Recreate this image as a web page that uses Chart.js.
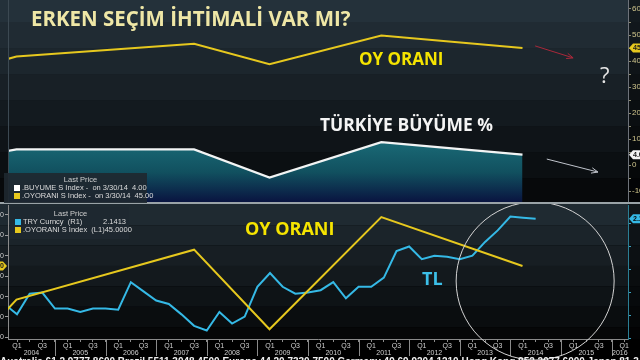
<!DOCTYPE html>
<html>
  <head>
    <title>Erken Seçim İhtimali Var mı?</title>
    <script src="https://cdn.jsdelivr.net/npm/chart.js"></script>
    <style>
      body { margin: 0; background: #000; width: 640px; height: 360px; overflow: hidden; position: relative; font-family: "Open Sans", sans-serif; }
      .panel { position: absolute; left: 0; width: 640px; }
      .txt { position: absolute; line-height: 1; white-space: nowrap; font-weight: 700; transform-origin: 0 0; }
      .legend { position: absolute; background: rgba(30, 40, 48, 0.92); font-family: "Liberation Sans", sans-serif; font-size: 7.5px; line-height: 8px; color: #dcdcdc; box-sizing: border-box; padding-top: 3px; }
      .legend .head { text-align: center; color: #cfcfcf; height: 8px; }
      .legend .row { display: flex; align-items: center; height: 8px; }
      .legend .row span { white-space: pre; }
      .legend .sw { width: 6px; height: 6px; margin-right: 2px; flex: none; }
      .legend .val { margin-left: auto; }
      #sep { position: absolute; left: 0; top: 202px; width: 640px; height: 2px; background: #9aa3a7; }
      #footer { position: absolute; left: 0; top: 357px; font-family: "Liberation Sans", sans-serif; font-size: 10px; font-weight: 700; color: #f0f0f0; white-space: nowrap; line-height: 1; }
    </style>
  </head>

  <body>
    <div class="panel" style="top: 0; height: 203px"><canvas id="topChart"></canvas></div>
    <div class="panel" style="top: 203px; height: 157px"><canvas id="bottomChart"></canvas></div>
    <div id="sep"></div>

    <div class="txt" style="left: 31px; top: 8px; font-size: 21px; color: #efe7a6; transform: scaleX(0.975)">ERKEN SEÇİM İHTİMALİ VAR MI?</div>
    <div class="txt" style="left: 359px; top: 50px; font-size: 17px; color: #f5e400">OY ORANI</div>
    <div class="txt" style="left: 600px; top: 63px; font-size: 22px; font-weight: 400; color: #e6e6e6">?</div>
    <div class="txt" style="left: 320px; top: 115px; font-size: 18px; color: #f4f4f4; transform: scaleX(0.97)">TÜRKİYE BÜYÜME %</div>
    <div class="txt" style="left: 245px; top: 219px; font-size: 18px; color: #f5e400">OY ORANI</div>
    <div class="txt" style="left: 422px; top: 269px; font-size: 18px; color: #3cbfe8">TL</div>

    <div class="legend" style="left: 4px; top: 173px; width: 143px; height: 30px; padding-left: 10px">
      <div class="head">Last Price</div>
      <div class="row"><span class="sw" style="background: #ffffff"></span><span>.BUYUME S Index -  on 3/30/14  4.00</span></div>
      <div class="row"><span class="sw" style="background: #e6c81e"></span><span>.OYORANI S Index -  on 3/30/14  45.00</span></div>
    </div>
    <div class="legend" style="left: 10px; top: 207px; width: 119px; height: 32px; padding-left: 5px; padding-right: 3px">
      <div class="head">Last Price</div>
      <div class="row"><span class="sw" style="background: #35b9e6"></span><span>TRY Curncy  (R1)</span><span class="val">2.1413</span></div>
      <div class="row"><span class="sw" style="background: #e6c81e"></span><span>.OYORANI S Index  (L1)</span><span class="val">45.0000</span></div>
    </div>

    <div id="footer">Australia 61 2 9777 8600 Brazil 5511 3048 4500 Europe 44 20 7330 7500 Germany 49 69 9204 1210 Hong Kong 852 2977 6000 Japan 81 3 3201 8900</div>

    <script>
      // election results (AKP vote share) and growth, dated in decimal years
      var voteDates = [2002.84, 2004.24, 2007.75, 2009.24, 2011.45, 2014.24];
      var voteValues = [34.3, 41.7, 46.6, 38.8, 49.8, 45.0];
      var growthDates = [2004.07, 2004.24, 2007.75, 2009.24, 2011.45, 2014.24];
      var growthValues = [5.4, 6.0, 6.0, -4.8, 8.8, 4.0];

      // USD/TRY, quarter end
      var tryQuarters = [
        "2003Q4",
        "2004Q1", "2004Q2", "2004Q3", "2004Q4",
        "2005Q1", "2005Q2", "2005Q3", "2005Q4",
        "2006Q1", "2006Q2", "2006Q3", "2006Q4",
        "2007Q1", "2007Q2", "2007Q3", "2007Q4",
        "2008Q1", "2008Q2", "2008Q3", "2008Q4",
        "2009Q1", "2009Q2", "2009Q3", "2009Q4",
        "2010Q1", "2010Q2", "2010Q3", "2010Q4",
        "2011Q1", "2011Q2", "2011Q3", "2011Q4",
        "2012Q1", "2012Q2", "2012Q3", "2012Q4",
        "2013Q1", "2013Q2", "2013Q3", "2013Q4",
        "2014Q1", "2014Q2",
      ];
      var tryValues = [
        1.40,
        1.31, 1.49, 1.50, 1.36,
        1.36, 1.33, 1.36, 1.36,
        1.35, 1.59, 1.51, 1.43,
        1.40, 1.31, 1.21, 1.17,
        1.33, 1.23, 1.29, 1.55,
        1.67, 1.55, 1.49, 1.50,
        1.52, 1.59, 1.45, 1.55,
        1.55, 1.63, 1.86, 1.90,
        1.79, 1.82, 1.81, 1.79,
        1.82, 1.94, 2.04, 2.16,
        2.15, 2.1413,
      ];

      var yearLabels = [2004, 2005, 2006, 2007, 2008, 2009, 2010, 2011, 2012, 2013, 2014, 2015, 2016];

      // annotations (data coordinates)
      var arrowNotes = [
        { from: [2014.49, 45.8], to: [2015.24, 41.2], color: "#a8283a" },
        { from: [2014.72, 2.3], to: [2015.73, -2.7], color: "#c0c4cc" },
      ];
      var circleNote = { x: 2014.49, y: 1.6, r: 79 };

      var xMin = 2004.072;
      var xMax = 2016.325;

      function quarterToYear(q) {
        return parseInt(q.slice(0, 4), 10) + parseInt(q.slice(5), 10) * 0.25;
      }
      function toPoints(xs, ys) {
        return xs.map(function (x, i) { return { x: x, y: ys[i] }; });
      }

      function hexToRgb(h) {
        return [parseInt(h.slice(1, 3), 16), parseInt(h.slice(3, 5), 16), parseInt(h.slice(5, 7), 16)];
      }
      function mix(a, b, f) {
        var ca = hexToRgb(a), cb = hexToRgb(b);
        return "rgb(" + ca.map(function (c, i) { return Math.round(c + (cb[i] - c) * f); }).join(",") + ")";
      }

      function paintBands(chart, scaleId, edges, c1, c2) {
        var ctx = chart.ctx, s = chart.scales[scaleId], a = chart.chartArea;
        var ys = [0].concat(edges.map(function (v) { return s.getPixelForValue(v); }), [a.bottom]);
        ctx.save();
        ctx.fillStyle = "#000";
        ctx.fillRect(0, 0, chart.width, chart.height);
        for (var i = 0; i < ys.length - 1; i++) {
          ctx.fillStyle = mix(c1, c2, i / (ys.length - 2));
          ctx.fillRect(0, ys[i], chart.width, ys[i + 1] - ys[i]);
        }
        ctx.fillStyle = "rgba(0,0,0,0.45)";
        ctx.fillRect(a.right, 0, chart.width - a.right, a.bottom);
        ctx.restore();
      }

      function drawTag(chart, scaleId, value, text, bg, fg, side) {
        var ctx = chart.ctx, a = chart.chartArea;
        var y = chart.scales[scaleId].getPixelForValue(value);
        ctx.save();
        ctx.fillStyle = bg;
        ctx.beginPath();
        if (side === "right") {
          var x0 = a.right + 1;
          ctx.moveTo(x0, y);
          ctx.lineTo(x0 + 4, y - 4.5);
          ctx.lineTo(x0 + 40, y - 4.5);
          ctx.lineTo(x0 + 40, y + 4.5);
          ctx.lineTo(x0 + 4, y + 4.5);
        } else {
          var x1 = a.left - 1;
          ctx.moveTo(x1, y);
          ctx.lineTo(x1 - 4, y - 4.5);
          ctx.lineTo(x1 - 40, y - 4.5);
          ctx.lineTo(x1 - 40, y + 4.5);
          ctx.lineTo(x1 - 4, y + 4.5);
        }
        ctx.closePath();
        ctx.fill();
        ctx.fillStyle = fg;
        ctx.font = "bold 7px 'Liberation Sans'";
        ctx.textBaseline = "middle";
        if (side === "right") {
          ctx.textAlign = "left";
          ctx.fillText(text, a.right + 5, y + 0.5);
        } else {
          ctx.textAlign = "right";
          ctx.fillText(text, a.left - 4, y + 0.5);
        }
        ctx.restore();
      }

      function fixWidth(w) {
        return function (scale) {
          scale.width = w;
          scale.paddingTop = 0;
          scale.paddingBottom = 0;
        };
      }
      function fixHeight(h) {
        return function (scale) {
          scale.height = h;
          scale.paddingLeft = 0;
          scale.paddingRight = 0;
        };
      }
      function ticksFromTo(lo, hi, step) {
        return function (scale) {
          var t = [];
          for (var v = lo; v <= hi + 1e-9; v += step) t.push({ value: Math.round(v * 1000) / 1000 });
          scale.ticks = t;
        };
      }

      Chart.defaults.font.family = "'Liberation Sans', sans-serif";
      Chart.defaults.font.size = 7;
      Chart.defaults.animation = false;
      Chart.defaults.plugins.legend.display = false;
      Chart.defaults.plugins.tooltip.enabled = false;

      // ---------- top panel ----------
      var topDecor = {
        id: "topDecor",
        beforeDraw: function (chart) {
          paintBands(chart, "y", [55, 45, 35, 25, 15, 5, -5], "#24313a", "#07090b");
        },
        afterDatasetsDraw: function (chart) {
          var ctx = chart.ctx, a = chart.chartArea, x = chart.scales.x, y = chart.scales.y;
          ctx.save();
          ctx.strokeStyle = "#3c4952";
          ctx.lineWidth = 1;
          ctx.beginPath();
          ctx.moveTo(a.left + 0.5, a.top);
          ctx.lineTo(a.left + 0.5, a.bottom);
          ctx.stroke();
          arrowNotes.forEach(function (n) {
            var x0 = x.getPixelForValue(n.from[0]), y0 = y.getPixelForValue(n.from[1]);
            var x1 = x.getPixelForValue(n.to[0]), y1 = y.getPixelForValue(n.to[1]);
            var ang = Math.atan2(y1 - y0, x1 - x0);
            ctx.strokeStyle = n.color;
            ctx.beginPath();
            ctx.moveTo(x0, y0);
            ctx.lineTo(x1, y1);
            ctx.moveTo(x1 - 7 * Math.cos(ang - 0.4), y1 - 7 * Math.sin(ang - 0.4));
            ctx.lineTo(x1, y1);
            ctx.lineTo(x1 - 7 * Math.cos(ang + 0.4), y1 - 7 * Math.sin(ang + 0.4));
            ctx.stroke();
          });
          ctx.restore();
          drawTag(chart, "y", voteValues[voteValues.length - 1], "45.00", "#e6c81e", "#1a1a1a", "right");
          drawTag(chart, "y", growthValues[growthValues.length - 1], "4.00", "#f4f4f4", "#1a1a1a", "right");
        },
      };

      new Chart(document.getElementById("topChart"), {
        type: "line",
        data: {
          datasets: [
            {
              label: ".OYORANI S Index",
              data: toPoints(voteDates, voteValues),
              borderColor: "#e6c81e",
              borderWidth: 2,
              pointRadius: 0,
              fill: false,
            },
            {
              label: ".BUYUME S Index",
              data: toPoints(growthDates, growthValues),
              borderColor: "#f2f4f4",
              borderWidth: 2.2,
              pointRadius: 0,
              fill: "start",
              backgroundColor: function (context) {
                var chart = context.chart, a = chart.chartArea;
                if (!a) return "rgba(0,0,0,0)";
                var top = chart.scales.y.getPixelForValue(9);
                var g = chart.ctx.createLinearGradient(0, top, 0, a.bottom);
                g.addColorStop(0, "#1a6a76");
                g.addColorStop(0.5, "#11505f");
                g.addColorStop(1, "#09123f");
                return g;
              },
            },
          ],
        },
        options: {
          responsive: true,
          maintainAspectRatio: false,
          layout: { padding: { left: 8, right: 0, top: 0, bottom: 0 } },
          scales: {
            x: { type: "linear", min: xMin, max: xMax, display: false },
            y: {
              position: "right",
              min: -14.6,
              max: 63.46,
              afterBuildTicks: ticksFromTo(-10, 60, 5),
              afterFit: fixWidth(12),
              grid: { drawOnChartArea: false, tickLength: 3, color: "#8c8a70" },
              border: { color: "#6e737a" },
              ticks: {
                padding: 1,
                color: "#cfc58c",
                font: { size: 8 },
                callback: function (v) { return v % 10 === 0 ? String(v) : ""; },
              },
            },
          },
        },
        plugins: [topDecor],
      });

      // ---------- bottom panel ----------
      var bottomDecor = {
        id: "bottomDecor",
        beforeDraw: function (chart) {
          paintBands(chart, "yL", [49, 47, 45, 43, 41, 39], "#1f2a31", "#060708");
        },
        afterDraw: function (chart) {
          var ctx = chart.ctx, a = chart.chartArea, x = chart.scales.x;
          ctx.save();
          // year separators and year labels under the quarter row
          ctx.strokeStyle = "#8a8a8a";
          ctx.lineWidth = 1;
          ctx.fillStyle = "#cfcfcf";
          ctx.font = "7px 'Liberation Sans'";
          ctx.textAlign = "center";
          ctx.textBaseline = "top";
          yearLabels.forEach(function (yr) {
            if (yr > xMin && yr < xMax) {
              var px = Math.round(x.getPixelForValue(yr)) + 0.5;
              ctx.beginPath();
              ctx.moveTo(px, a.bottom);
              ctx.lineTo(px, x.bottom - 1);
              ctx.stroke();
            }
            var lo = Math.max(yr, xMin), hi = Math.min(yr + 1, xMax);
            ctx.fillText(String(yr), x.getPixelForValue((lo + hi) / 2), a.bottom + 11);
          });
          var cx = x.getPixelForValue(circleNote.x), cy = chart.scales.yR.getPixelForValue(circleNote.y);
          ctx.strokeStyle = "#d4d4d4";
          ctx.beginPath();
          ctx.arc(cx, cy, circleNote.r, 0, Math.PI * 2);
          ctx.stroke();
          ctx.restore();
          drawTag(chart, "yR", tryValues[tryValues.length - 1], "2.1413", "#35b9e6", "#0a0a0a", "right");
          drawTag(chart, "yL", voteValues[voteValues.length - 1], "45.0000", "#e6c81e", "#1a1a1a", "left");
        },
      };

      new Chart(document.getElementById("bottomChart"), {
        type: "line",
        data: {
          datasets: [
            {
              label: ".OYORANI S Index (L1)",
              data: toPoints(voteDates, voteValues),
              yAxisID: "yL",
              borderColor: "#e6c81e",
              borderWidth: 2,
              pointRadius: 0,
            },
            {
              label: "TRY Curncy (R1)",
              data: toPoints(tryQuarters.map(quarterToYear), tryValues),
              yAxisID: "yR",
              borderColor: "#35b9e6",
              borderWidth: 2,
              pointRadius: 0,
            },
          ],
        },
        options: {
          responsive: true,
          maintainAspectRatio: false,
          layout: { padding: { left: 0, right: 0, top: 2, bottom: 3 } },
          scales: {
            x: {
              type: "linear",
              position: "bottom",
              min: xMin,
              max: xMax,
              afterBuildTicks: ticksFromTo(2004.25, 2016.25, 0.25),
              afterFit: fixHeight(18),
              grid: { drawOnChartArea: false, tickLength: 3, color: "#8a8a8a" },
              border: { color: "#8a8a8a" },
              ticks: {
                padding: 0,
                autoSkip: false,
                maxRotation: 0,
                color: "#cfcfcf",
                callback: function (v) {
                  var q = Math.round(v * 4) % 4;
                  return q === 1 ? "Q1" : q === 3 ? "Q3" : "";
                },
              },
            },
            yL: {
              position: "left",
              min: 37.84,
              max: 50.98,
              afterBuildTicks: ticksFromTo(38, 50, 1),
              afterFit: fixWidth(8),
              grid: { drawOnChartArea: false, tickLength: 3, color: "#9a9a9a" },
              border: { color: "#8a8a8a" },
              ticks: {
                padding: 1,
                color: "#d0d0d0",
                callback: function (v) { return v % 2 === 0 ? v.toFixed(1) : ""; },
              },
            },
            yR: {
              position: "right",
              min: 1.0957,
              max: 2.261,
              afterBuildTicks: ticksFromTo(1.1, 2.2, 0.1),
              afterFit: fixWidth(12),
              grid: { drawOnChartArea: false, tickLength: 3, color: "#3aa3c2" },
              border: { color: "#2b7f95" },
              ticks: {
                padding: 1,
                color: "#a8cdd6",
                font: { size: 8 },
                callback: function (v) { return Math.round(v * 10) % 2 === 0 ? v.toFixed(1) : ""; },
              },
            },
          },
        },
        plugins: [bottomDecor],
      });
    </script>
  </body>
</html>
